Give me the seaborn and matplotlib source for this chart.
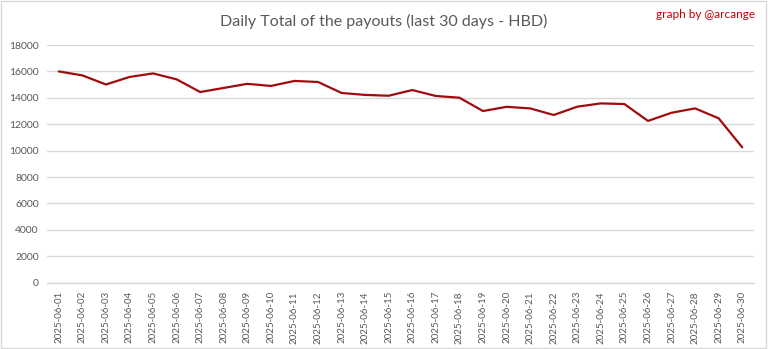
import matplotlib
matplotlib.use("Agg")
import matplotlib.pyplot as plt
import seaborn as sns
import pandas as pd

# Daily HBD payout totals for June 2025
dates = [f"2025-06-{d:02d}" for d in range(1, 31)]
payouts = [16000, 15700, 15010, 15580, 15850, 15400, 14440, 14750, 15060, 14900,
           15280, 15200, 14370, 14220, 14160, 14590, 14140, 14010, 13000, 13320,
           13200, 12700, 13330, 13580, 13530, 12250, 12870, 13200, 12450, 10250]
y_ticks = list(range(0, 18001, 2000))

title_text = "Daily Total of the payouts (last 30 days - HBD)"
credit_text = "graph by @arcange"

df = pd.DataFrame({"date": dates, "payout": payouts})

sns.set_theme(style="white")
plt.rcParams["font.family"] = ["Lato", "DejaVu Sans"]

fig = plt.figure(figsize=(7.68, 3.49), dpi=100)
ax = fig.add_axes([0.0612, 0.190, 0.9206, 0.681])

sns.lineplot(data=df, x="date", y="payout", ax=ax, color="#a00c0c",
             linewidth=1.6, sort=False)

ax.set_xlim(-0.5, len(dates) - 0.5)
ax.set_ylim(0, 18000)
ax.set_yticks(y_ticks)
ax.set_yticklabels([str(v) for v in y_ticks])
ax.yaxis.grid(True, color="#d9d9d9", linewidth=1)
ax.xaxis.grid(False)
ax.set_xlabel("")
ax.set_ylabel("")
for side in ["top", "right", "left"]:
    ax.spines[side].set_visible(False)
ax.spines["bottom"].set_color("#d9d9d9")
ax.spines["bottom"].set_linewidth(1)

ax.tick_params(axis="x", labelrotation=90, labelsize=7, colors="#595959",
               length=0, pad=6)
ax.tick_params(axis="y", labelsize=7.5, colors="#595959", length=0, pad=6)

fig.text(0.5, 0.938, title_text, ha="center", va="center",
         fontsize=11.5, color="#595959")
fig.text(0.983, 0.958, credit_text, ha="right", va="center",
         fontsize=8.5, color="#c00000")

# thin frame around the whole figure
fig.patches.append(plt.Rectangle((0.001, 0.002), 0.997, 0.995,
                                 transform=fig.transFigure, fill=False,
                                 edgecolor="#d9d9d9", linewidth=1))

fig.savefig("out.png", dpi=100)
